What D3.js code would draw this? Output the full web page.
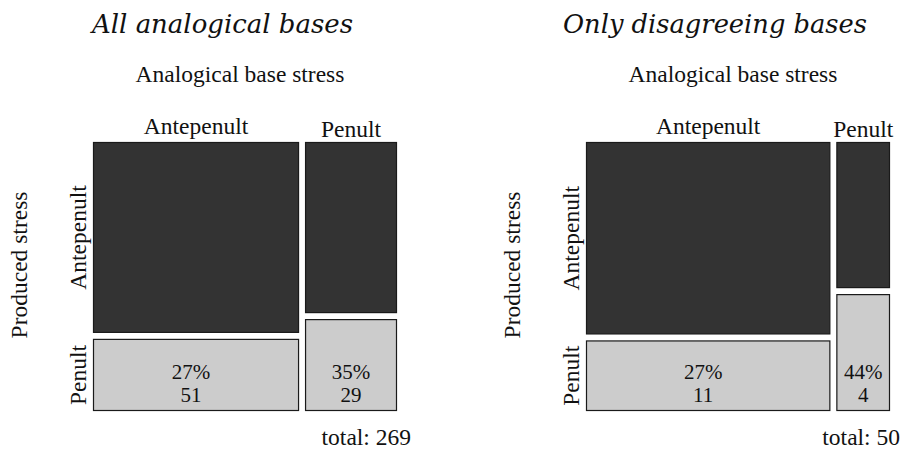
<!DOCTYPE html>
<html>
<head>
<meta charset="utf-8">
<script src="https://cdn.jsdelivr.net/npm/d3@7"></script>
<style>
  body { margin: 0; background: #fff; }
  text { font-family: "Liberation Serif", "Times New Roman", serif; fill: #111; }
  .title { font-family: "DejaVu Serif", serif; font-style: italic; }
</style>
</head>
<body>
<div id="chart"></div>
<script>
// categories
const baseStress = ["Antepenult", "Penult"];      // columns (analogical base stress)
const producedStress = ["Antepenult", "Penult"];  // rows (produced stress)

// counts per base stress column: [produced antepenult, produced penult]
const allCounts = [[135, 51], [54, 29]];
const disagreeCounts = [[30, 11], [5, 4]];

const panelTitles = ["All analogical bases", "Only disagreeing bases"];

let w = 900, h = 458;
let gap = 6;

let svg = d3.select("#chart")
    .append("svg")
    .attr("width", w)
    .attr("height", h);

function mosaic(counts, title, x0, x1, y0, y1, titleX, titleLen, subX, totalX){

    let colTotals = counts.map(function(c){ return d3.sum(c); });
    let total = d3.sum(colTotals);

    let g = svg.append("g");

    g.append("text")
        .attr("class", "title")
        .attr("x", titleX)
        .attr("y", 33)
        .attr("textLength", titleLen)
        .attr("lengthAdjust", "spacingAndGlyphs")
        .style("font-size", "26px")
        .text(title);

    g.append("text")
        .attr("x", subX)
        .attr("y", 82)
        .style("text-anchor", "middle")
        .style("font-size", "23.5px")
        .text("Analogical base stress");

    // widths proportional to column totals
    let xScale = d3.scaleLinear()
        .domain([0, total])
        .range([0, (x1 - x0) - gap * (counts.length - 1)]);

    let cum = 0;
    counts.forEach(function(col, i){
        let cx = x0 + xScale(cum) + gap * i;
        let cw = xScale(colTotals[i]);
        cum += colTotals[i];

        let yScale = d3.scaleLinear()
            .domain([0, colTotals[i]])
            .range([0, (y1 - y0) - gap * (col.length - 1)]);

        let cells = [];
        let ycum = 0;
        col.forEach(function(v, j){
            cells.push({x: cx, y: y0 + yScale(ycum) + gap * j, w: cw, h: yScale(v), v: v, j: j});
            ycum += v;
        });

        g.selectAll("cell" + i)
            .data(cells)
            .enter()
            .append("rect")
            .attr("x", function(d){ return d.x + 0.5; })
            .attr("y", function(d){ return d.y + 0.5; })
            .attr("width", function(d){ return d.w - 1; })
            .attr("height", function(d){ return d.h - 1; })
            .attr("fill", function(d){ return d.j == 0 ? "#333333" : "#cccccc"; })
            .attr("stroke", "#1a1a1a")
            .attr("stroke-width", 1.2);

        // percentage + count in penult cell
        let pc = cells[1];
        let mx = pc.x + pc.w / 2 - (i == 0 ? 5 : 0);
        g.append("text")
            .attr("x", mx)
            .attr("y", y1 - 32)
            .style("text-anchor", "middle")
            .style("font-size", "21px")
            .text(d3.format(".0%")(pc.v / colTotals[i]));
        g.append("text")
            .attr("x", mx)
            .attr("y", y1 - 9)
            .style("text-anchor", "middle")
            .style("font-size", "21px")
            .text(pc.v);

        // column label
        g.append("text")
            .attr("x", cx + cw / 2)
            .attr("y", i == 0 ? y0 - 8 : y0 - 5)
            .style("text-anchor", "middle")
            .style("font-size", "23.5px")
            .text(baseStress[i]);

        // row labels from first column
        if(i == 0){
            cells.forEach(function(d){
                g.append("text")
                    .attr("transform", "translate(" + (x0 - 7) + "," + (d.y + d.h / 2) + ") rotate(-90)")
                    .style("text-anchor", "middle")
                    .style("font-size", "23.5px")
                    .text(producedStress[d.j]);
            });
        }
    });

    g.append("text")
        .attr("transform", "translate(" + (x0 - 66) + "," + 265 + ") rotate(-90)")
        .style("text-anchor", "middle")
        .style("font-size", "23.5px")
        .text("Produced stress");

    g.append("text")
        .attr("x", totalX)
        .attr("y", 445)
        .style("text-anchor", "end")
        .style("font-size", "23.5px")
        .text("total: " + total);
}

mosaic(allCounts, panelTitles[0], 93, 397, 142, 411, 92, 261, 240, 411);
mosaic(disagreeCounts, panelTitles[1], 586, 890, 142, 411, 563, 304, 733, 900);
</script>
</body>
</html>
